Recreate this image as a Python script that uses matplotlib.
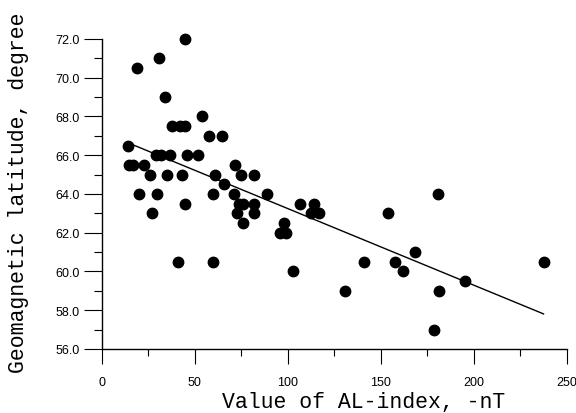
import numpy as np
import matplotlib
matplotlib.use('Agg')
import matplotlib.pyplot as plt
from matplotlib.ticker import MultipleLocator, FormatStrFormatter

# AL-index (-nT) vs geomagnetic latitude (degree)
al_index = [13.8, 14.7, 16.9, 18.8, 19.9, 22.8, 25.8, 26.7, 28.9, 29.7,
            30.8, 31.7, 33.9, 34.8, 36.6, 37.8, 40.7, 41.9, 42.8, 44.8,
            44.8, 44.8, 45.9, 51.6, 53.8, 57.7, 59.7, 59.7, 60.8, 64.7,
            65.8, 70.8, 71.7, 72.6, 74.7, 73.7, 76.0, 75.6, 81.7, 81.7,
            81.7, 88.5, 95.7, 97.7, 98.8, 102.7, 106.6, 113.8, 112.4, 116.7,
            130.6, 140.7, 153.6, 157.7, 161.7, 168.6, 178.5, 180.5, 181.5, 195.5,
            237.5]
latitude = [66.5, 65.5, 65.5, 70.5, 64.0, 65.5, 65.0, 63.0, 66.0, 64.0,
            71.0, 66.0, 69.0, 65.0, 66.0, 67.5, 60.5, 67.5, 65.0, 67.5,
            72.0, 63.5, 66.0, 66.0, 68.0, 67.0, 64.0, 60.5, 65.0, 67.0,
            64.5, 64.0, 65.5, 63.0, 65.0, 63.5, 63.5, 62.5, 65.0, 63.5,
            63.0, 64.0, 62.0, 62.5, 62.0, 60.0, 63.5, 63.5, 63.0, 63.0,
            59.0, 60.5, 63.0, 60.5, 60.0, 61.0, 57.0, 64.0, 59.0, 59.5,
            60.5]

x = np.array(al_index)
y = np.array(latitude)

# linear regression line
k, b = np.polyfit(x, y, 1)
xl = np.array([x.min(), x.max()])

fig = plt.figure(figsize=(5.76, 4.14), dpi=100)
ax = fig.add_axes([0.177, 0.1546, 0.807, 0.7488])

ax.plot(x, y, 'o', color='black', markersize=7.5, clip_on=False)
ax.plot(xl, k * xl + b, color='black', linewidth=1)

ax.set_xlim(0, 250)
ax.set_ylim(56, 72)

ax.spines['top'].set_visible(False)
ax.spines['right'].set_visible(False)
ax.spines['left'].set_linewidth(1)
ax.spines['bottom'].set_linewidth(1)

ax.xaxis.set_major_locator(MultipleLocator(50))
ax.xaxis.set_minor_locator(MultipleLocator(25))
ax.yaxis.set_major_locator(MultipleLocator(2))
ax.yaxis.set_minor_locator(MultipleLocator(1))
ax.yaxis.set_major_formatter(FormatStrFormatter('%.1f'))

ax.tick_params(axis='x', which='major', direction='out', length=11, width=0.8, pad=8.5,
               labelsize=9, colors='black')
ax.tick_params(axis='x', which='minor', direction='out', length=5, width=0.8)
ax.tick_params(axis='y', which='major', direction='out', length=13, width=0.8, pad=3,
               labelsize=9, colors='black')
ax.tick_params(axis='y', which='minor', direction='out', length=5.5, width=0.8)
for lab in ax.get_xticklabels() + ax.get_yticklabels():
    lab.set_family('Liberation Sans')

ax.set_xlabel('Value of AL-index, -nT', family='Liberation Mono', fontsize=15.5)
ax.set_ylabel('Geomagnetic latitude, degree', family='Liberation Mono', fontsize=15.5)
ax.xaxis.set_label_coords(0.563, -0.135)
ax.yaxis.set_label_coords(-0.157, 0.508)

fig.savefig('out.png', dpi=100)
